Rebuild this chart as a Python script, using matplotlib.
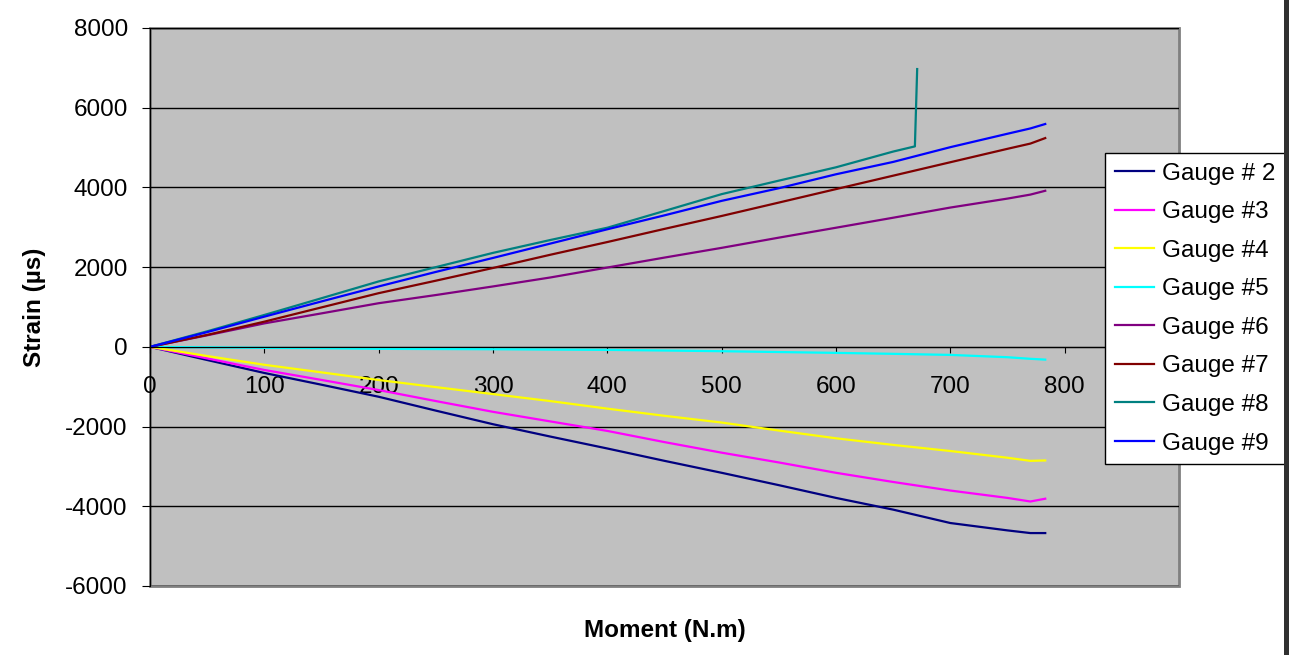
# Strain gauge readings vs applied moment (Excel style chart)
import matplotlib
matplotlib.use("Agg")
import matplotlib.pyplot as plt
from matplotlib.patches import Rectangle

plt.rcParams['font.family'] = ['Liberation Sans', 'DejaVu Sans']
plt.rcParams['axes.unicode_minus'] = False

moment = [0, 50, 100, 150, 200, 250, 300, 350, 400, 450, 500, 550, 600, 650, 700, 750, 770, 783]

gauge2 = [0, -330, -655, -950, -1252, -1600, -1941, -2250, -2550, -2860, -3160, -3470, -3790, -4084, -4420, -4605, -4672, -4672]
gauge3 = [0, -290, -580, -830, -1084, -1360, -1630, -1870, -2109, -2390, -2655, -2900, -3160, -3390, -3605, -3790, -3880, -3810]
gauge4 = [0, -230, -450, -640, -832, -1010, -1185, -1360, -1550, -1730, -1899, -2100, -2294, -2460, -2613, -2782, -2860, -2850]
gauge5 = [0, -12, -25, -35, -50, -55, -60, -68, -76, -92, -109, -130, -151, -175, -202, -260, -300, -320]
gauge6 = [0, 290, 589, 840, 1095, 1300, 1516, 1740, 1990, 2240, 2484, 2740, 2989, 3240, 3495, 3720, 3820, 3916]
gauge7 = [0, 300, 632, 990, 1347, 1660, 1979, 2310, 2630, 2960, 3284, 3620, 3958, 4295, 4632, 4969, 5100, 5238]
gauge9 = [0, 370, 758, 1140, 1516, 1880, 2231, 2590, 2950, 3300, 3663, 3980, 4330, 4640, 5010, 5347, 5480, 5591]

# gauge 8 stops early with a spike at failure
moment8 = [0, 50, 100, 150, 200, 250, 300, 350, 400, 450, 500, 550, 600, 650, 669, 671]
gauge8 = [0, 390, 800, 1220, 1642, 2000, 2358, 2680, 2989, 3410, 3832, 4170, 4505, 4900, 5030, 6970]

labels = ['Gauge # 2', 'Gauge #3', 'Gauge #4', 'Gauge #5', 'Gauge #6', 'Gauge #7', 'Gauge #8', 'Gauge #9']
colors = ['#000080', '#FF00FF', '#FFFF00', '#00FFFF', '#800080', '#800000', '#008080', '#0000FF']

W, H = 1289, 655
fig = plt.figure(figsize=(W / 100, H / 100), dpi=100)
ax = fig.add_axes([150 / W, 1 - 586 / H, (1179 - 150) / W, (586 - 28) / H])
ax.set_facecolor('#C0C0C0')

series = [(moment, gauge2), (moment, gauge3), (moment, gauge4), (moment, gauge5),
          (moment, gauge6), (moment, gauge7), (moment8, gauge8), (moment, gauge9)]
for (xs, ys), lab, col in zip(series, labels, colors):
    ax.plot(xs, ys, color=col, lw=1.6, label=lab)

ax.set_xlim(0, 900)
ax.set_ylim(-6000, 8000)
ax.set_xticks(range(0, 801, 100))
ax.set_yticks(range(-6000, 8001, 2000))
ax.grid(axis='y', color='black', lw=1)
ax.set_axisbelow(True)

# x axis crosses at zero like in Excel
for s in ['top', 'right']:
    ax.spines[s].set_visible(False)
ax.spines['bottom'].set_position(('data', 0))
ax.spines['bottom'].set_color('black')
ax.spines['left'].set_color('black')
ax.add_patch(Rectangle((0, 0), 1, 1, transform=ax.transAxes, fill=False,
                       edgecolor='#808080', lw=2, clip_on=False, zorder=0.5))

ax.tick_params(axis='x', direction='out', length=4, pad=17, labelsize=17.5, color='black')
ax.tick_params(axis='y', direction='out', length=6, pad=10, labelsize=17.5)

fig.text(665 / W, 1 - 630 / H, 'Moment (N.m)', ha='center', va='center',
         fontsize=17.5, fontweight='bold')
fig.text(35 / W, 1 - 307 / H, 'Strain (µs)', ha='center', va='center',
         rotation=90, fontsize=17.5, fontweight='bold')

leg = ax.legend(loc='upper left', bbox_to_anchor=(1105 / W, 1 - 153 / H),
                bbox_transform=fig.transFigure, borderaxespad=0, fontsize=17.5,
                frameon=True, fancybox=False, framealpha=1, edgecolor='black',
                handlelength=1.6, handletextpad=0.35, labelspacing=0.68, borderpad=0.4)
leg.get_frame().set_linewidth(1)

# dark strip at the right edge of the screenshot
fig.patches.append(Rectangle((1284 / W, 0), 5 / W, 1, transform=fig.transFigure,
                             facecolor='#303030', edgecolor='none'))

fig.savefig('out.png', dpi=100)
